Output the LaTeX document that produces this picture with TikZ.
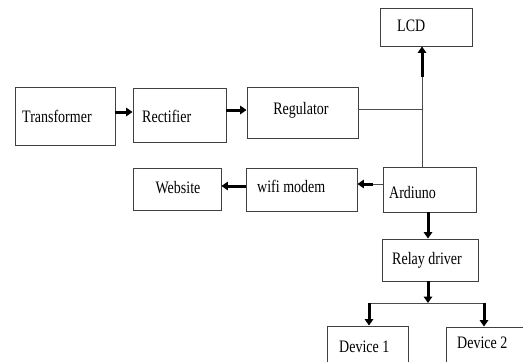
\documentclass[tikz,border=0pt]{standalone}
\usepackage{fontspec}
\setmainfont{Liberation Serif}
\usetikzlibrary{arrows.meta}
\newcommand{\tx}[1]{\scalebox{1}[1.25]{#1}}
\tikzset{
  box/.style={draw=black!75, line width=0.9pt, inner sep=0pt},
  lbl/.style={font=\fontsize{14}{16}\selectfont, inner sep=0pt, text=black},
  arr/.style={line width=3pt, -{Triangle[length=6.5pt,width=8.5pt]}},
  ln/.style={line width=0.8pt, draw=black!70}
}
\begin{document}
\begin{tikzpicture}[x=1pt,y=-1pt]
\clip (0,0) rectangle (523,362);
\fill[white] (0,0) rectangle (523,362);
% boxes
\node[box, minimum width=100pt, minimum height=58pt] (tr) at (65,116) {};
\node[box, minimum width=93pt, minimum height=54pt] (re) at (179.5,115) {};
\node[box, minimum width=111pt, minimum height=51pt] (rg) at (302.5,112.5) {};
\node[box, minimum width=92pt, minimum height=38pt] (lcd) at (426,27) {};
\node[box, minimum width=88pt, minimum height=42pt] (web) at (177,189) {};
\node[box, minimum width=111pt, minimum height=43pt] (wifi) at (301.5,189.5) {};
\node[box, minimum width=93pt, minimum height=45pt] (ard) at (429.5,189.5) {};
\node[box, minimum width=96pt, minimum height=42pt] (rel) at (430,260) {};
\node[box, minimum width=81pt, minimum height=49pt] (d1) at (367.5,350.5) {};
\node[box, minimum width=78pt, minimum height=48pt] (d2) at (485,351) {};
% labels
\node[lbl, anchor=west] (ttr) at (22,116) {\tx{Transformer}};
\node[lbl, anchor=west] (tre) at (142,116) {\tx{Rectifier}};
\node[lbl] (trg) at (301,110) {\tx{Regulator}};
\node[lbl, anchor=west] (tlcd) at (397,26) {\tx{LCD}};
\node[lbl] (tweb) at (178,188) {\tx{Website}};
\node[lbl, anchor=west] (twifi) at (257,186) {\tx{wifi modem}};
\node[lbl, anchor=west] (tard) at (389,193) {\tx{Ardiuno}};
\node[lbl, anchor=west] (trel) at (392,260) {\tx{Relay driver}};
\node[lbl, anchor=west] (td1) at (339,347) {\tx{Device 1}};
\node[lbl, anchor=west] (td2) at (457,343) {\tx{Device 2}};
% junction coordinates
\coordinate (jr) at (422,109);
\coordinate (jl) at (422,77);
\coordinate (jb) at (428,303);
\coordinate (b1) at (369,303);
\coordinate (b2) at (484,303);
% connectors
\draw[arr] (tr.east |- 0,112) -- (re.west |- 0,112);
\draw[arr] (re.east |- 0,110) -- (rg.west |- 0,110);
\draw[ln] (rg.east |- jr) -- (jr);
\draw[ln] (ard.north -| jr) -- (jl);
\draw[arr] (jl) -- (lcd.south -| jl);
\draw[ln] (ard.west |- 0,184) -- (371,184);
\draw[arr] (373,184) -- (wifi.east |- 0,184);
\draw[arr] (wifi.west |- 0,186) -- (web.east |- 0,186);
\draw[arr] (ard.south -| jb) -- (rel.north -| jb);
\draw[arr] (rel.south -| jb) -- (jb);
\draw[ln] (b1) -- (b2);
\draw[arr] (b1) -- (d1.north -| b1);
\draw[arr] (b2) -- (d2.north -| b2);
\end{tikzpicture}
\end{document}
